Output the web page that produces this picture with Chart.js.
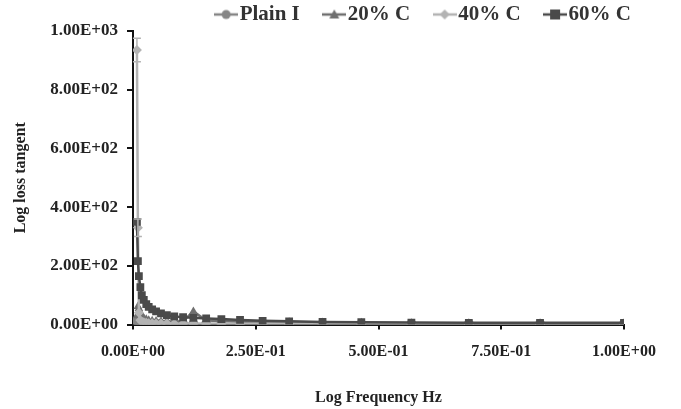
<!DOCTYPE html>
<html>
<head>
<meta charset="utf-8">
<script src="https://cdn.jsdelivr.net/npm/chart.js@4.4.1/dist/chart.umd.min.js"></script>
<style>
  html, body { margin: 0; padding: 0; background: #fff; }
  #wrap { width: 681px; height: 409px; position: relative; }
</style>
</head>
<body>
<div id="wrap"><canvas id="myChart" width="681" height="409"></canvas></div>
<script>
// frequency points
const freq = [0.008, 0.010, 0.012, 0.015, 0.018, 0.022, 0.027, 0.032, 0.039, 0.047, 0.057, 0.069, 0.084,
              0.102, 0.123, 0.149, 0.180, 0.218, 0.264, 0.318, 0.386, 0.465, 0.567, 0.684, 0.829, 1.000];

const plainI = [12, 8, 6, 5, 4, 4, 3, 3, 3, 3, 2, 2, 2, 2, 2, 2, 2, 2, 2, 2, 2, 2, 2, 2, 2, 2];
const c20 = [30, 62, 55, 40, 30, 22, 18, 15, 13, 12, 11, 10, 10, 12, 45, 14, 12, 10, 9, 8, 7, 6, 5, 5, 5, 5];
const c40 = [935, 330, 40, 15, 10, 8, 6, 5, 5, 4, 4, 4, 3, 3, 3, 3, 3, 3, 3, 3, 3, 3, 3, 3, 3, 3];
const c60 = [350, 216, 165, 128, 100, 84, 70, 60, 52, 45, 38, 32, 28, 25, 23, 21, 19, 16, 13, 11, 9, 8, 7, 6, 6, 6];
const c40err = [40, 30];

const seriesNames = ['Plain I', '20% C', '40% C', '60% C'];
const legendGaps = ['      ', '      ', '      ', ''];
const yTicks = [0, 200, 400, 600, 800, 1000];
const xTicks = [0, 0.25, 0.5, 0.75, 1.0];

function sci(v) {
    // 2.50E-01 style labels
    if (v === 0) return '0.00E+00';
    const e = Math.floor(Math.log10(Math.abs(v)) + 1e-9);
    const m = v / Math.pow(10, e);
    const sign = e < 0 ? '-' : '+';
    return m.toFixed(2) + 'E' + sign + String(Math.abs(e)).padStart(2, '0');
}

function pts(ys) {
    return freq.map((x, i) => ({ x: x, y: ys[i] }));
}

// legend icon: short line with the marker in the middle
function legendIcon(color, style) {
    const c = document.createElement('canvas');
    c.width = 24; c.height = 12;
    const g = c.getContext('2d');
    g.strokeStyle = color; g.fillStyle = color; g.lineWidth = 2.5;
    g.beginPath(); g.moveTo(0, 6); g.lineTo(24, 6); g.stroke();
    g.beginPath();
    if (style === 'circle') {
        g.arc(12, 6, 4.5, 0, Math.PI * 2);
    } else if (style === 'triangle') {
        g.moveTo(12, 1); g.lineTo(17, 10); g.lineTo(7, 10); g.closePath();
    } else if (style === 'rectRot') {
        g.moveTo(12, 1); g.lineTo(17, 6); g.lineTo(12, 11); g.lineTo(7, 6); g.closePath();
    } else {
        g.rect(7, 1, 10, 10);
    }
    g.fill();
    return c;
}

const colors = ['#858585', '#6f6f6f', '#b3b3b3', '#4a4a4a'];
const styles = ['circle', 'triangle', 'rectRot', 'rect'];
const values = [plainI, c20, c40, c60];

const errorBars = {
    id: 'errorBars',
    afterDatasetsDraw(chart) {
        const ctx = chart.ctx;
        const xs = chart.scales.x, ys = chart.scales.y;
        ctx.save();
        ctx.strokeStyle = '#b3b3b3';
        ctx.lineWidth = 1.5;
        c40err.forEach((err, i) => {
            const px = xs.getPixelForValue(freq[i]);
            const top = ys.getPixelForValue(c40[i] + err);
            const bot = ys.getPixelForValue(c40[i] - err);
            ctx.beginPath();
            ctx.moveTo(px, top); ctx.lineTo(px, bot);
            ctx.moveTo(px - 4, top); ctx.lineTo(px + 4, top);
            ctx.moveTo(px - 4, bot); ctx.lineTo(px + 4, bot);
            ctx.stroke();
        });
        ctx.restore();
    }
};

// nudge the legend right and down a little
const legendShift = {
    id: 'legendShift',
    afterLayout(chart) {
        chart.legend.left += 7;
        chart.legend.right += 7;
        chart.legend.top += 4;
        chart.legend.bottom += 4;
    }
};

const font = 'Liberation Serif';
const ctx = document.getElementById('myChart').getContext('2d');
const myChart = new Chart(ctx, {
    type: 'line',
    data: {
        datasets: seriesNames.map((name, i) => ({
            label: name,
            data: pts(values[i]),
            borderColor: colors[i],
            backgroundColor: colors[i],
            pointStyle: styles[i],
            pointRadius: styles[i] === 'rect' ? 5.5 : 5,
            pointBorderWidth: 0,
            borderWidth: 2.5,
            tension: 0,
            order: [3, 2, 1, 0][i]
        }))
    },
    options: {
        responsive: false,
        animation: false,
        layout: { padding: { top: 0, right: 57, bottom: 2, left: 11 } },
        plugins: {
            legend: {
                position: 'top',
                align: 'end',
                labels: {
                    usePointStyle: true,
                    pointStyleWidth: 6,
                    color: '#333',
                    font: { family: font, size: 21, weight: 'bold', lineHeight: 1.0 },
                    padding: 0,
                    generateLabels(chart) {
                        return chart.data.datasets.map((ds, i) => ({
                            text: ds.label + legendGaps[i],
                            fillStyle: colors[i],
                            strokeStyle: colors[i],
                            pointStyle: legendIcon(colors[i], styles[i]),
                            fontColor: '#333',
                            datasetIndex: i,
                            hidden: false
                        }));
                    }
                }
            },
            tooltip: { enabled: false }
        },
        scales: {
            x: {
                type: 'linear',
                min: 0, max: 1,
                afterBuildTicks(scale) { scale.ticks = xTicks.map(v => ({ value: v })); },
                border: { color: '#111', width: 2 },
                grid: { drawOnChartArea: false, drawTicks: true, tickLength: 5, color: '#111', lineWidth: 2 },
                ticks: {
                    color: '#222',
                    font: { family: font, size: 16, weight: 'bold' },
                    padding: 13,
                    maxRotation: 0,
                    callback: v => sci(v)
                },
                title: {
                    display: true,
                    text: 'Log Frequency Hz',
                    color: '#222',
                    font: { family: font, size: 16, weight: 'bold' },
                    padding: { top: 13, bottom: 0 }
                }
            },
            y: {
                min: 0, max: 1000,
                afterBuildTicks(scale) { scale.ticks = yTicks.map(v => ({ value: v })); },
                afterFit(scale) { scale.width = 122; },
                border: { color: '#111', width: 2 },
                grid: { drawOnChartArea: false, drawTicks: true, tickLength: 6, color: '#111', lineWidth: 2 },
                ticks: {
                    color: '#222',
                    font: { family: font, size: 17, weight: 'bold' },
                    padding: 9,
                    callback: v => sci(v)
                },
                title: {
                    display: true,
                    text: 'Log loss tangent',
                    color: '#222',
                    font: { family: font, size: 16, weight: 'bold' },
                    padding: { top: 0, bottom: 10 }
                }
            }
        }
    },
    plugins: [errorBars, legendShift]
});
</script>
</body>
</html>
